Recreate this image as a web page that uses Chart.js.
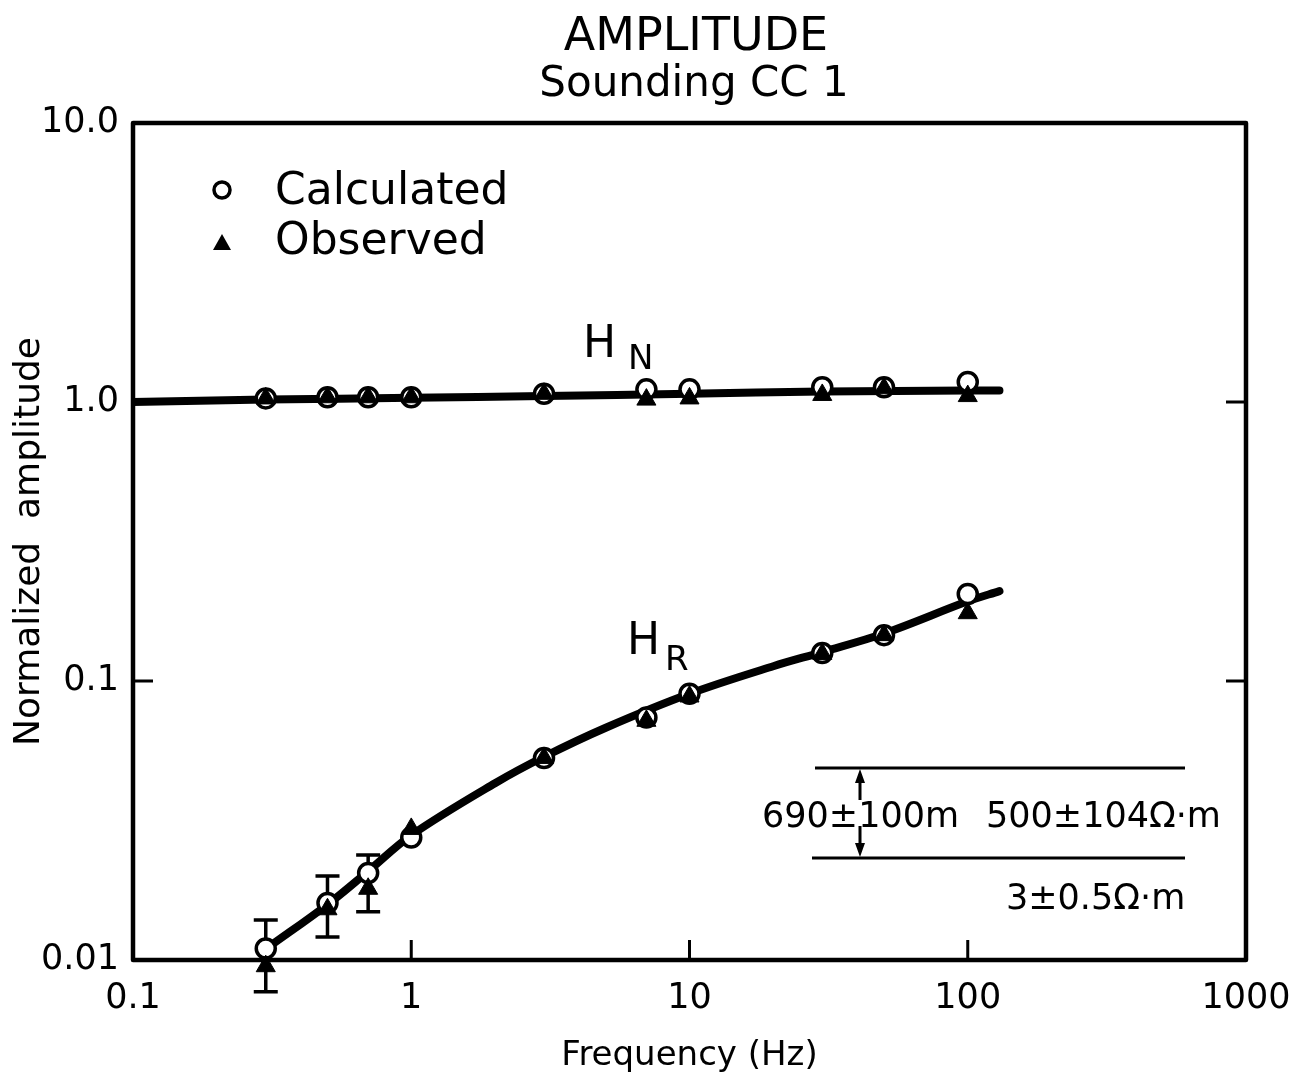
<!DOCTYPE html>
<html>
<head>
<meta charset="utf-8">
<script src="https://cdn.jsdelivr.net/npm/chart.js@4"></script>
<style>
  html, body { margin: 0; background: #fff; }
  #wrap { width: 1311px; height: 1080px; }
</style>
</head>
<body>
<div id="wrap"><canvas id="ampChart"></canvas></div>
<script>
// sounding frequencies (Hz)
const freqs = [0.3, 0.5, 0.7, 1, 3, 7, 10, 30, 50, 100];

// H_N component
const hnCalc = [1.03, 1.04, 1.04, 1.04, 1.07, 1.11, 1.11, 1.13, 1.13, 1.18];
const hnObs = [1.03, 1.04, 1.04, 1.04, 1.07, 1.02, 1.03, 1.06, 1.12, 1.05];
const hnFitFreq = [0.1, 0.3, 1, 3, 10, 30, 100, 130];
const hnFit = [1.0, 1.02, 1.035, 1.05, 1.07, 1.09, 1.1, 1.1];

// H_R component
const hrCalc = [0.011, 0.016, 0.0205, 0.0275, 0.053, 0.074, 0.09, 0.126, 0.146, 0.205];
const hrObs = [0.0095, 0.0152, 0.018, 0.0295, 0.053, 0.072, 0.088, 0.125, 0.146, 0.175];
const hrObsLow = [0.0077, 0.0121, 0.0149, null, null, null, null, null, null, null];
const hrObsHigh = [0.0139, 0.02, 0.0238, null, null, null, null, null, null, null];
const hrFitFreq = [0.31, 0.5, 0.7, 1, 2, 3, 5, 10, 20, 30, 50, 100, 130];
const hrFit = [0.0112, 0.0158, 0.0208, 0.028, 0.043, 0.0535, 0.068, 0.09, 0.113, 0.127, 0.148, 0.193, 0.21];

// axis ticks
const xTickVals = [0.1, 1, 10, 100, 1000];
const xTickLabels = ["0.1", "1", "10", "100", "1000"];
const yTickVals = [0.01, 0.1, 1, 10];
const yTickLabels = ["0.01", "0.1", "1.0", "10.0"];

const FONT = "'DejaVu Sans', sans-serif";

function pts(xs, ys) {
  return xs.map((x, i) => ({ x: x, y: ys[i] }));
}

const fitStyle = {
  showLine: true,
  pointRadius: 0,
  pointHoverRadius: 0,
  borderColor: "#000",
  borderWidth: 8,
  tension: 0.35,
  borderCapStyle: "round",
  order: 3,
};
const calcStyle = {
  pointStyle: "circle",
  pointRadius: 9.5,
  pointHoverRadius: 9.5,
  pointBorderWidth: 3.5,
  pointBackgroundColor: "#fff",
  pointBorderColor: "#000",
  showLine: false,
  clip: false,
  order: 2,
};
const obsStyle = {
  pointStyle: "triangle",
  pointRadius: 11,
  pointHoverRadius: 11,
  pointBorderWidth: 1,
  pointBackgroundColor: "#000",
  pointBorderColor: "#000",
  showLine: false,
  clip: false,
  order: 1,
};

// frame, inward ticks, error bars (under the markers)
// then titles, legend, curve labels and the layer sketch on top
const decor = {
  id: "decor",
  beforeDatasetsDraw(chart) {
    const { ctx, chartArea: a, scales } = chart;
    ctx.save();
    ctx.strokeStyle = "#000";
    ctx.lineWidth = 4.5;
    ctx.lineJoin = "round";
    ctx.strokeRect(a.left, a.top, a.right - a.left, a.bottom - a.top);

    ctx.lineWidth = 3;
    ctx.beginPath();
    [1, 10, 100].forEach((v) => {
      const x = scales.x.getPixelForValue(v);
      ctx.moveTo(x, a.bottom);
      ctx.lineTo(x, a.bottom - 20);
    });
    [0.1, 1].forEach((v) => {
      const y = scales.y.getPixelForValue(v);
      ctx.moveTo(a.left, y);
      ctx.lineTo(a.left + 20, y);
      ctx.moveTo(a.right, y);
      ctx.lineTo(a.right - 20, y);
    });
    ctx.stroke();

    // error bars on the low-frequency H_R observations
    ctx.lineWidth = 3.5;
    ctx.beginPath();
    freqs.forEach((f, i) => {
      if (hrObsLow[i] == null) return;
      const x = scales.x.getPixelForValue(f);
      const y1 = scales.y.getPixelForValue(hrObsLow[i]);
      const y2 = scales.y.getPixelForValue(hrObsHigh[i]);
      ctx.moveTo(x, y1);
      ctx.lineTo(x, y2);
      ctx.moveTo(x - 12, y1);
      ctx.lineTo(x + 12, y1);
      ctx.moveTo(x - 12, y2);
      ctx.lineTo(x + 12, y2);
    });
    ctx.stroke();
    ctx.restore();
  },
  afterDatasetsDraw(chart) {
    const { ctx } = chart;
    ctx.save();
    ctx.fillStyle = "#000";
    ctx.strokeStyle = "#000";

    // title
    ctx.textAlign = "center";
    ctx.textBaseline = "alphabetic";
    ctx.font = "46px " + FONT;
    ctx.fillText("AMPLITUDE", 696, 50);
    ctx.font = "42px " + FONT;
    ctx.fillText("Sounding CC 1", 694, 96);

    // legend
    ctx.textAlign = "left";
    ctx.font = "44px " + FONT;
    ctx.fillText("Calculated", 275, 204);
    ctx.fillText("Observed", 275, 254);
    ctx.lineWidth = 3.5;
    ctx.beginPath();
    ctx.arc(222, 190, 8, 0, Math.PI * 2);
    ctx.stroke();
    ctx.beginPath();
    ctx.moveTo(222, 234);
    ctx.lineTo(231, 250);
    ctx.lineTo(213, 250);
    ctx.closePath();
    ctx.fill();

    // curve labels
    ctx.font = "44px " + FONT;
    ctx.fillText("H", 583, 357);
    ctx.fillText("H", 627, 654);
    ctx.font = "34px " + FONT;
    ctx.fillText("N", 628, 369);
    ctx.fillText("R", 665, 670);

    // layer model
    ctx.lineWidth = 3;
    ctx.beginPath();
    ctx.moveTo(815, 768);
    ctx.lineTo(1185, 768);
    ctx.moveTo(812, 858);
    ctx.lineTo(1185, 858);
    ctx.moveTo(860, 778);
    ctx.lineTo(860, 800);
    ctx.moveTo(860, 826);
    ctx.lineTo(860, 848);
    ctx.stroke();
    ctx.beginPath();
    ctx.moveTo(860, 769);
    ctx.lineTo(865, 783);
    ctx.lineTo(855, 783);
    ctx.closePath();
    ctx.moveTo(860, 857);
    ctx.lineTo(865, 843);
    ctx.lineTo(855, 843);
    ctx.closePath();
    ctx.fill();

    ctx.font = "35px " + FONT;
    ctx.textBaseline = "middle";
    ctx.fillText("690\u00b1100m", 762, 818);
    ctx.fillText("500\u00b1104\u03a9\u00b7m", 986, 818);
    ctx.fillText("3\u00b10.5\u03a9\u00b7m", 1006, 900);
    ctx.restore();
  },
};

new Chart(document.getElementById("ampChart"), {
  type: "scatter",
  data: {
    datasets: [
      { label: "H_N fit", data: pts(hnFitFreq, hnFit), ...fitStyle },
      { label: "H_R fit", data: pts(hrFitFreq, hrFit), ...fitStyle },
      { label: "Calculated H_N", data: pts(freqs, hnCalc), ...calcStyle },
      { label: "Calculated H_R", data: pts(freqs, hrCalc), ...calcStyle },
      { label: "Observed H_N", data: pts(freqs, hnObs), ...obsStyle },
      { label: "Observed H_R", data: pts(freqs, hrObs), ...obsStyle },
    ],
  },
  options: {
    responsive: true,
    maintainAspectRatio: false,
    animation: false,
    devicePixelRatio: 1,
    events: [],
    layout: { padding: { top: 123, right: 65, left: 0, bottom: 0 } },
    plugins: {
      legend: { display: false },
      tooltip: { enabled: false },
    },
    scales: {
      x: {
        type: "logarithmic",
        min: 0.1,
        max: 1000,
        grid: { display: false, drawTicks: false },
        border: { display: false },
        afterBuildTicks: (scale) => {
          scale.ticks = xTickVals.map((v) => ({ value: v }));
        },
        afterFit: (scale) => {
          scale.height = 120;
          scale.paddingLeft = 0;
          scale.paddingRight = 0;
        },
        ticks: {
          color: "#000",
          font: { family: FONT, size: 35 },
          padding: 18,
          autoSkip: false,
          maxRotation: 0,
          callback: (v) => xTickLabels[xTickVals.indexOf(v)],
        },
        title: {
          display: true,
          text: "Frequency (Hz)",
          color: "#000",
          font: { family: FONT, size: 34 },
          padding: { top: 0, bottom: 3 },
        },
      },
      y: {
        type: "logarithmic",
        min: 0.01,
        max: 10,
        grid: { display: false, drawTicks: false },
        border: { display: false },
        afterBuildTicks: (scale) => {
          scale.ticks = yTickVals.map((v) => ({ value: v }));
        },
        afterFit: (scale) => {
          scale.width = 133;
          scale.paddingTop = 0;
          scale.paddingBottom = 0;
        },
        ticks: {
          color: "#000",
          font: { family: FONT, size: 35 },
          padding: 14,
          autoSkip: false,
          callback: (v) => yTickLabels[yTickVals.indexOf(v)],
        },
        title: {
          display: true,
          text: "Normalized  amplitude",
          color: "#000",
          font: { family: FONT, size: 36 },
          padding: { top: 8, bottom: 0 },
        },
      },
    },
  },
  plugins: [decor],
});
</script>
</body>
</html>
